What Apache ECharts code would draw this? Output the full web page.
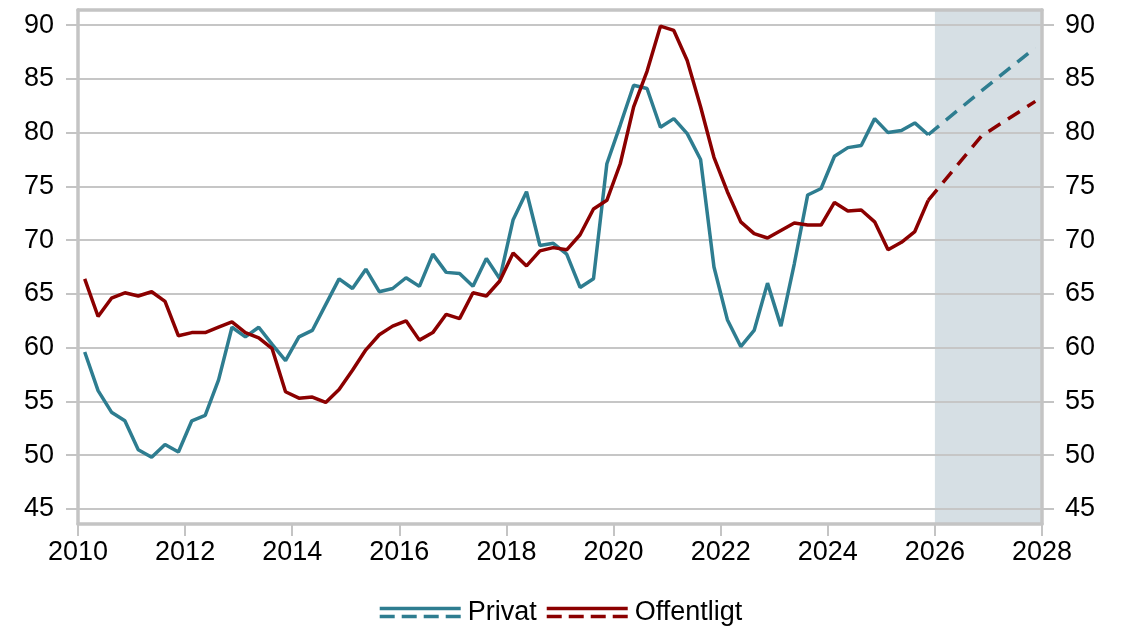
<!DOCTYPE html>
<html>
<head>
<meta charset="utf-8">
<script src="https://cdn.jsdelivr.net/npm/echarts@6/dist/echarts.min.js"></script>
<style>
  html, body { margin: 0; padding: 0; background: #fff; }
  #chart { width: 1122px; height: 626px; }
</style>
</head>
<body>
<div id="chart"></div>
<script>
// kvartalsdata, 2010K1 - 2025K4
var firstYear = 2010;
var privat = [
  59.6, 56.0, 54.0, 53.2, 50.5, 49.8, 51.0, 50.3,
  53.2, 53.7, 57.0, 61.9, 61.0, 61.9, 60.3, 58.8,
  61.0, 61.6, 64.0, 66.4, 65.5, 67.3, 65.2, 65.5,
  66.5, 65.7, 68.7, 67.0, 66.9, 65.7, 68.3, 66.4,
  71.9, 74.5, 69.5, 69.7, 68.7, 65.6, 66.4, 77.1,
  80.7, 84.4, 84.1, 80.5, 81.3, 79.9, 77.5, 67.5,
  62.6, 60.1, 61.6, 66.0, 62.0, 67.8, 74.2, 74.8,
  77.8, 78.6, 78.8, 81.3, 80.0, 80.2, 80.9, 79.8
];
var offentligt = [
  66.4, 62.9, 64.6, 65.1, 64.8, 65.2, 64.3, 61.1,
  61.4, 61.4, 61.9, 62.4, 61.4, 60.9, 59.9, 55.9,
  55.3, 55.4, 54.9, 56.1, 57.9, 59.8, 61.2, 62.0,
  62.5, 60.7, 61.4, 63.1, 62.7, 65.1, 64.8, 66.2,
  68.8, 67.6, 69.0, 69.3, 69.1, 70.5, 72.9, 73.7,
  77.1, 82.4, 85.7, 89.9, 89.5, 86.7, 82.4, 77.7,
  74.5, 71.7, 70.6, 70.2, 70.9, 71.6, 71.4, 71.4,
  73.5, 72.7, 72.8, 71.7, 69.1, 69.8, 70.8, 73.7
];

// prognose
var forecastQuarters = ['2025K4', '2026K4', '2027K4'];
var privatForecast = [79.8, 83.9, 87.9];
var offentligtForecast = [73.7, 79.7, 82.9];
var forecastSpan = [2026, 2028];

var yTicks = [45, 50, 55, 60, 65, 70, 75, 80, 85, 90];

var quarters = [];
for (var i = 0; i < privat.length; i++) {
  quarters.push((firstYear + Math.floor(i / 4)) + 'K' + (i % 4 + 1));
}

// kvartal placeres midt i kvartalet
function quarterToX(label) {
  var y = +label.slice(0, 4), q = +label.slice(5);
  return y + (q - 0.5) / 4;
}
function pairs(labels, values) {
  return labels.map(function(l, i) { return [quarterToX(l), values[i]]; });
}

var blue = '#2e7d90';
var red = '#8b0000';
var grey = '#c4c4c4';
var font = '"Liberation Sans", Arial, sans-serif';
var fs = 27;
var frame = { show: true, lineStyle: { color: grey, width: 3.5 } };
var legendIcon = 'path://M0,0H81V3.5H0Z M0,8H15V11.5H0Z M22,8H37V11.5H22Z M44,8H59V11.5H44Z M66,8H81V11.5H66Z';

var chart = echarts.init(document.getElementById('chart'));

var option = {
  animation: false,
  grid: { left: 78, right: 80, top: 10, bottom: 102 },
  legend: {
    data: ['Privat', 'Offentligt'],
    top: 599,
    left: 'center',
    padding: 0,
    icon: legendIcon,
    itemWidth: 81,
    itemHeight: 12,
    itemGap: 10,
    itemStyle: { borderWidth: 0 },
    textStyle: { color: '#000', fontSize: fs, fontFamily: font, padding: [0, 0, 0, 2] }
  },
  xAxis: [{
    type: 'value',
    min: 2010,
    max: 2028,
    interval: 2,
    z: 4,
    axisLine: frame,
    axisTick: { show: true, length: 12, lineStyle: { color: grey, width: 2 } },
    axisLabel: {
      color: '#000', fontSize: fs, fontFamily: font, margin: 15,
      formatter: function(v) { return String(v); }
    },
    splitLine: { show: false }
  }, {
    type: 'value',
    position: 'top',
    min: 2010,
    max: 2028,
    z: 4,
    axisLine: frame,
    axisTick: { show: false },
    axisLabel: { show: false },
    splitLine: { show: false }
  }],
  yAxis: [{
    type: 'value',
    position: 'left',
    min: 43.6,
    max: 91.4,
    z: 4,
    axisLine: frame,
    axisTick: { show: true, length: 12, customValues: yTicks, lineStyle: { color: grey, width: 2 } },
    axisLabel: { customValues: yTicks, color: '#000', fontSize: fs, fontFamily: font, margin: 24 },
    splitLine: { show: true, lineStyle: { color: '#c6c6c6', width: 2 } }
  }, {
    type: 'value',
    position: 'right',
    min: 43.6,
    max: 91.4,
    z: 4,
    axisLine: frame,
    axisTick: { show: true, length: 12, customValues: yTicks, lineStyle: { color: grey, width: 2 } },
    axisLabel: { customValues: yTicks, color: '#000', fontSize: fs, fontFamily: font, margin: 23 },
    splitLine: { show: false }
  }],
  series: [
    {
      // skygge for prognoseperioden
      type: 'line',
      data: [],
      z: 1,
      silent: true,
      markArea: {
        silent: true,
        itemStyle: { color: '#d6dfe4' },
        data: [[{ xAxis: forecastSpan[0] }, { xAxis: forecastSpan[1] }]]
      }
    },
    {
      name: 'Privat', type: 'line', z: 5, symbol: 'none',
      data: pairs(quarters, privat),
      lineStyle: { color: blue, width: 3.5 }, itemStyle: { color: blue }
    },
    {
      name: 'Offentligt', type: 'line', z: 5, symbol: 'none',
      data: pairs(quarters, offentligt),
      lineStyle: { color: red, width: 3.5 }, itemStyle: { color: red }
    },
    {
      name: 'Privat', type: 'line', z: 5, symbol: 'none',
      data: pairs(forecastQuarters, privatForecast),
      lineStyle: { color: blue, width: 3.5, type: [14, 9] }, itemStyle: { color: blue }
    },
    {
      name: 'Offentligt', type: 'line', z: 5, symbol: 'none',
      data: pairs(forecastQuarters, offentligtForecast),
      lineStyle: { color: red, width: 3.5, type: [14, 9] }, itemStyle: { color: red }
    }
  ]
};

chart.setOption(option);
</script>
</body>
</html>
